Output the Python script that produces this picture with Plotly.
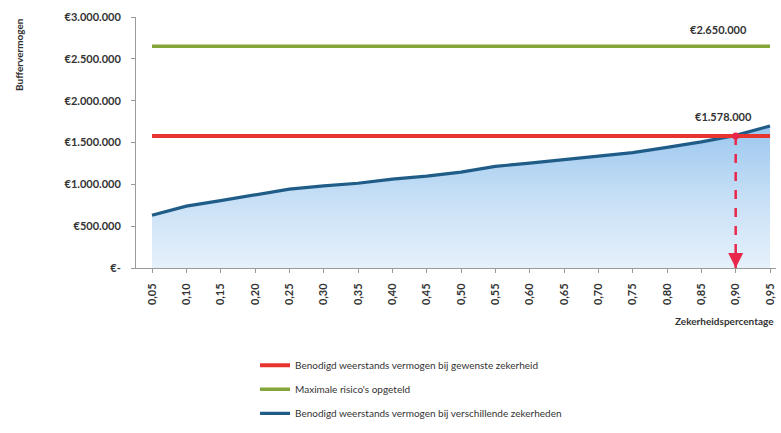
import plotly.graph_objects as go

# ---- data ----
zekerheid = [0.05, 0.10, 0.15, 0.20, 0.25, 0.30, 0.35, 0.40, 0.45, 0.50,
             0.55, 0.60, 0.65, 0.70, 0.75, 0.80, 0.85, 0.90, 0.95]
x_labels = ["0,05", "0,10", "0,15", "0,20", "0,25", "0,30", "0,35", "0,40", "0,45", "0,50",
            "0,55", "0,60", "0,65", "0,70", "0,75", "0,80", "0,85", "0,90", "0,95"]
benodigd_verschillend = [630000, 740000, 806000, 872000, 942000, 981000, 1013000, 1063000,
                         1098000, 1145000, 1215000, 1253000, 1293000, 1340000, 1379000,
                         1441000, 1507000, 1585000, 1698000]
benodigd_gewenst = 1578000
gewenste_zekerheid = 0.90
maximale_risicos = 2650000

y_tickvals = [0, 500000, 1000000, 1500000, 2000000, 2500000, 3000000]
y_ticktext = ["€-", "€500.000", "€1.000.000", "€1.500.000", "€2.000.000", "€2.500.000", "€3.000.000"]

names = ["Benodigd weerstands vermogen bij gewenste zekerheid",
         "Maximale risico's opgeteld",
         "Benodigd weerstands vermogen bij verschillende zekerheden"]

RED = "#e8342f"
GREEN = "#83a63a"
BLUE = "#1f5d88"
ARROW = "#e8284a"
FONT = "Lato"
TXT = "#333333"

def fmt_eur(v):
    return "€" + f"{v:,}".replace(",", ".")

fig = go.Figure()

# blue area (fill only)
fig.add_trace(go.Scatter(
    x=zekerheid, y=benodigd_verschillend, mode="lines", line=dict(width=0, color=BLUE),
    fill="tozeroy",
    fillgradient=dict(type="vertical",
                      colorscale=[[0, "#e6f1fb"], [0.5, "#c6dff6"], [1, "#9bc7ee"]]),
    showlegend=False, hoverinfo="skip"))

# blue line
fig.add_trace(go.Scatter(
    x=zekerheid, y=benodigd_verschillend, mode="lines", name=names[2],
    line=dict(color=BLUE, width=3.2), legendrank=3, legendgroup="c"))

# red horizontal line
fig.add_trace(go.Scatter(
    x=[zekerheid[0], zekerheid[-1]], y=[benodigd_gewenst, benodigd_gewenst], mode="lines",
    name=names[0], line=dict(color=RED, width=4), legendrank=1, legendgroup="a"))

# green horizontal line
fig.add_trace(go.Scatter(
    x=[zekerheid[0], zekerheid[-1]], y=[maximale_risicos, maximale_risicos], mode="lines",
    name=names[1], line=dict(color=GREEN, width=3.5), legendrank=2, legendgroup="b"))

# dashed line at the desired certainty
fig.add_trace(go.Scatter(
    x=[gewenste_zekerheid, gewenste_zekerheid], y=[benodigd_gewenst, 0], mode="lines",
    line=dict(color=ARROW, width=2.5, dash="dash"), showlegend=False, hoverinfo="skip"))
fig.add_trace(go.Scatter(
    x=[gewenste_zekerheid], y=[benodigd_gewenst], mode="markers",
    marker=dict(symbol="circle", size=7, color=ARROW),
    showlegend=False, hoverinfo="skip"))
# arrow head
fig.add_annotation(x=gewenste_zekerheid, y=0, ax=0, ay=-14, text="", showarrow=True,
                   arrowhead=2, arrowsize=1.2, arrowwidth=2.5, arrowcolor=ARROW)

fig.add_annotation(x=gewenste_zekerheid, y=maximale_risicos, text="<b>" + fmt_eur(maximale_risicos) + "</b>",
                   showarrow=False, yshift=17, xshift=-17, font=dict(family=FONT, size=11, color=TXT))
fig.add_annotation(x=gewenste_zekerheid, y=benodigd_gewenst, text="<b>" + fmt_eur(benodigd_gewenst) + "</b>",
                   showarrow=False, yshift=19, xshift=-12, font=dict(family=FONT, size=11, color=TXT))

fig.add_annotation(xref="paper", yref="paper", x=1.0, y=-0.21, xanchor="right", yanchor="middle",
                   text="<b>Zekerheidspercentage</b>", showarrow=False,
                   font=dict(family=FONT, size=10, color=TXT))
fig.add_annotation(xref="paper", yref="paper", x=-0.184, y=0.85, xanchor="center", yanchor="middle",
                   text="<b>Buffervermogen</b>", showarrow=False, textangle=-90,
                   font=dict(family=FONT, size=10, color=TXT))

fig.update_layout(
    width=781, height=433,
    margin=dict(l=136, r=5, t=17, b=159),
    paper_bgcolor="white", plot_bgcolor="white",
    font=dict(family=FONT, size=10, color=TXT),
    legend=dict(x=0.186, y=-0.33, xanchor="left", yanchor="top",
                font=dict(family=FONT, size=10, color=TXT),
                tracegroupgap=5, itemwidth=30, bgcolor="rgba(0,0,0,0)"),
    showlegend=True,
)
fig.update_xaxes(range=[0.0267, 0.9587], tickvals=zekerheid, ticktext=["<b>" + t + "</b>" for t in x_labels],
                 tickangle=-90, showgrid=False, zeroline=False, showline=True, linecolor="#9a9a9a",
                 linewidth=1, ticks="outside", tickcolor="#9a9a9a", ticklen=4, ticklabelstandoff=6,
                 tickfont=dict(family=FONT, size=11, color=TXT))
fig.update_yaxes(range=[0, 3000000], tickvals=y_tickvals, ticktext=["<b>" + t + "</b>" for t in y_ticktext],
                 showgrid=False, zeroline=False, showline=True, linecolor="#9a9a9a", linewidth=1,
                 ticks="outside", tickcolor="#9a9a9a", ticklen=4, ticklabelstandoff=8,
                 tickfont=dict(family=FONT, size=11, color=TXT))

fig.write_html("out.html", config={"displayModeBar": False},
               post_script="document.body.style.margin='0';")
